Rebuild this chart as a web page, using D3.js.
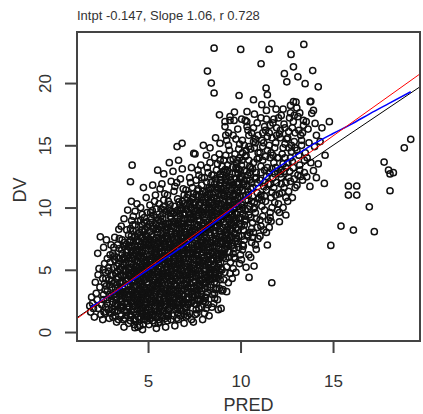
<!DOCTYPE html>
<html><head><meta charset="utf-8">
<script src="https://cdn.jsdelivr.net/npm/d3@7"></script>
<style>body{margin:0;background:#fff}svg{display:block}</style>
</head><body>
<svg id="c" width="423" height="414"></svg>
<script>
const title = "Intpt -0.147, Slope 1.06, r 0.728";
const xLabel = "PRED";
const yLabel = "DV";
const xTicks = [5, 10, 15];
const yTicks = [0, 5, 10, 15, 20];
const xDomain = [1.16, 19.7];
const yDomain = [-0.72, 24.1];
const fitIntercept = -0.147;
const fitSlope = 1.06;
const smoothX = [1.9, 3, 4, 5, 6, 7, 8, 9, 10, 11, 11.5, 12, 12.5, 13, 14, 15, 16, 17, 18, 19.2];
const smoothY = [2.0, 3.0, 4.0, 5.0, 6.0, 7.0, 8.15, 9.25, 10.45, 11.85, 12.6, 13.2, 13.7, 14.2, 15.15, 15.95, 16.7, 17.55, 18.35, 19.3];
const points = [
[1.9,1.6],[2.0,2.3],[2.1,1.2],[2.2,3.1],[1.95,2.8],[2.3,1.9],[2.15,4.0],[2.25,2.6],[2.28,6.32],[2.42,7.65],[2.35,5.1],[2.4,3.6],[2.05,1.9],[2.3,4.6],[2.45,1.4],[1.85,2.1],
[2.5,2.2],[2.6,3.0],[2.55,4.3],[2.7,1.5],[2.65,5.5],[2.8,2.6],[2.75,3.7],[2.9,1.1],[2.85,4.9],[2.95,6.2],[2.6,6.8],[2.7,2.0],[2.8,3.3],[2.9,4.2],[2.55,1.0],[3.0,2.9],[2.95,5.6],[2.75,7.4],[2.85,1.8],[2.65,3.9],[3.0,4.6],[2.9,3.0],[2.7,4.8],[2.6,2.6],[3.0,7.0],[2.8,5.9],
[3.1,1.2],[3.2,2.1],[3.15,3.0],[3.3,3.8],[3.25,4.7],[3.4,5.5],[3.1,6.3],[3.35,7.0],[3.42,8.25],[3.2,1.6],[3.3,2.6],[3.45,3.4],[3.05,4.1],[3.35,4.9],[3.2,5.8],[3.45,6.7],[3.1,2.4],[3.25,3.5],[3.4,1.0],[3.5,2.0],[3.15,5.2],[3.3,6.0],[3.45,2.9],[3.05,3.6],[3.4,4.4],[3.2,7.6],[3.5,5.0],[3.35,1.7],[3.1,4.6],[3.25,2.3],[3.5,3.1],[3.45,7.5],[3.3,0.8],[3.15,6.8],
[3.55,1.3],[3.6,2.2],[3.7,3.1],[3.65,4.0],[3.8,4.9],[3.75,5.8],[3.9,6.6],[3.6,7.4],[3.85,8.2],[3.7,9.1],[3.95,0.7],[3.55,1.9],[3.8,2.7],[3.65,3.5],[3.9,4.3],[3.55,5.2],[3.85,6.1],[3.7,6.9],[3.95,7.8],[3.6,2.9],[3.75,1.1],[3.9,2.0],[3.55,3.9],[3.8,4.6],[3.7,5.4],[3.95,3.3],[3.6,6.3],[3.85,1.6],[4.0,5.0],[3.75,2.4],[3.9,3.8],[3.65,4.5],[3.8,5.6],[3.95,6.9],[3.55,8.5],[3.9,9.8],[3.7,0.4],[4.0,2.6],[3.6,3.2],[3.85,4.1],[3.7,6.0],[4.0,7.2],
[4.05,0.9],[4.1,1.7],[4.2,2.5],[4.15,3.3],[4.3,4.1],[4.25,4.9],[4.4,5.7],[4.1,6.5],[4.35,7.3],[4.2,8.1],[4.45,8.9],[4.3,9.7],[4.1,10.5],[4.14,13.4],[4.05,12.07],[4.45,0.4],[4.1,1.3],[4.3,2.1],[4.2,2.9],[4.4,3.7],[4.05,4.5],[4.35,5.3],[4.2,6.1],[4.45,6.9],[4.1,7.7],[4.3,8.6],[4.25,1.0],[4.4,1.8],[4.15,2.3],[4.35,3.0],[4.05,3.8],[4.25,4.4],[4.45,5.1],[4.15,5.9],[4.35,6.6],[4.05,7.4],[4.45,2.6],[4.2,3.6],[4.4,4.7],[4.1,5.5],[4.3,6.3],[4.45,7.9],[4.2,9.3],[4.4,10.3],[4.25,0.6],[4.35,1.4],[4.0,2.0],[4.5,3.4],[4.15,4.2],[4.5,6.1],[4.25,7.0],[4.05,8.3],
[4.55,0.5],[4.6,1.2],[4.7,2.0],[4.65,2.8],[4.8,3.6],[4.75,4.4],[4.9,5.2],[4.6,6.0],[4.85,6.8],[4.7,7.6],[4.95,8.4],[4.8,9.2],[4.6,10.0],[4.9,10.8],[4.75,11.6],[4.95,0.9],[4.6,1.7],[4.85,2.4],[4.7,3.2],[4.95,4.0],[4.55,4.8],[4.8,5.6],[4.65,6.4],[4.9,7.2],[4.55,8.0],[4.8,8.8],[4.7,0.2],[4.9,1.5],[4.55,2.3],[4.75,3.0],[4.6,3.8],[4.85,4.6],[4.7,5.4],[4.95,6.2],[4.6,7.0],[4.85,7.8],[4.75,1.0],[4.65,2.1],[4.9,2.9],[4.55,3.5],[4.8,4.2],[4.65,5.0],[4.9,5.8],[4.55,6.6],[4.8,7.4],[4.7,8.6],[4.95,9.6],[4.65,1.5],[4.85,3.3],[4.6,4.4],[5.0,4.9],[4.75,6.1],[5.0,7.0],[4.6,9.0],
[5.05,0.6],[5.1,1.4],[5.2,2.2],[5.15,3.0],[5.3,3.8],[5.25,4.6],[5.4,5.4],[5.1,6.2],[5.35,7.0],[5.2,7.8],[5.45,8.6],[5.3,9.4],[5.1,10.2],[5.4,11.0],[5.25,11.8],[5.52,13.0],[5.45,0.3],[5.1,1.1],[5.35,1.9],[5.2,2.7],[5.45,3.5],[5.05,4.3],[5.3,5.1],[5.15,5.9],[5.4,6.7],[5.05,7.5],[5.3,8.3],[5.2,9.1],[5.45,9.9],[5.15,1.6],[5.4,2.4],[5.05,3.3],[5.25,4.0],[5.5,4.8],[5.15,5.6],[5.35,6.4],[5.05,7.2],[5.5,8.0],[5.25,0.9],[5.5,1.7],[5.3,2.5],[5.1,3.6],[5.45,4.4],[5.2,5.2],[5.5,6.0],[5.25,6.8],[5.45,7.6],[5.15,8.8],[5.35,10.5],[5.05,2.0],[5.35,3.2],[5.1,4.8],[5.4,5.8],[5.2,6.5],
[5.55,0.7],[5.6,1.5],[5.7,2.3],[5.65,3.1],[5.8,3.9],[5.75,4.7],[5.9,5.5],[5.6,6.3],[5.85,7.1],[5.7,7.9],[5.95,8.7],[5.8,9.5],[5.6,10.3],[5.9,11.1],[5.75,11.9],[5.85,12.7],[5.95,1.1],[5.6,1.9],[5.85,2.7],[5.7,3.5],[5.95,4.3],[5.55,5.1],[5.8,5.9],[5.65,6.7],[5.9,7.5],[5.55,8.3],[5.8,9.1],[5.7,9.9],[5.95,0.4],[5.65,2.0],[5.9,2.9],[5.55,3.7],[5.75,4.5],[5.6,5.3],[5.85,6.1],[5.7,6.9],[5.95,7.7],[5.6,8.5],[5.85,10.6],[5.75,1.3],[5.65,2.5],[5.9,3.3],[5.55,4.1],[5.8,4.9],[5.65,5.7],[5.9,6.5],[5.55,7.3],[5.8,8.1],[5.7,8.9],[6.0,9.7],[5.65,11.5],[5.85,1.7],[5.6,3.9],[6.0,5.2],[5.75,6.0],[6.0,6.8],[5.6,4.4],
[6.05,0.9],[6.1,1.7],[6.2,2.5],[6.15,3.3],[6.3,4.1],[6.25,4.9],[6.4,5.7],[6.1,6.5],[6.35,7.3],[6.2,8.1],[6.45,8.9],[6.3,9.7],[6.1,10.5],[6.4,11.3],[6.25,12.1],[6.35,12.9],[6.15,13.6],[6.45,0.5],[6.1,1.3],[6.35,2.1],[6.2,2.9],[6.45,3.7],[6.05,4.5],[6.3,5.3],[6.15,6.1],[6.4,6.9],[6.05,7.7],[6.3,8.5],[6.2,9.3],[6.45,10.1],[6.15,1.9],[6.4,2.7],[6.05,3.5],[6.25,4.3],[6.5,5.1],[6.15,5.9],[6.35,6.7],[6.05,7.5],[6.5,8.3],[6.25,9.1],[6.45,11.7],[6.25,1.0],[6.5,1.8],[6.3,3.0],[6.1,3.9],[6.45,4.7],[6.2,5.5],[6.5,6.3],[6.25,7.1],[6.45,7.9],[6.15,8.7],[6.35,9.5],[6.05,11.0],[6.3,2.3],[6.1,4.8],[6.4,6.0],[6.2,7.0],[6.0,8.0],[6.4,3.3],
[6.57,14.9],[6.84,15.16],[6.55,1.1],[6.6,1.9],[6.7,2.7],[6.65,3.5],[6.8,4.3],[6.75,5.1],[6.9,5.9],[6.6,6.7],[6.85,7.5],[6.7,8.3],[6.95,9.1],[6.8,9.9],[6.6,10.7],[6.9,11.5],[6.75,12.3],[6.85,13.1],[6.65,13.8],[6.95,0.7],[6.6,1.5],[6.85,2.3],[6.7,3.1],[6.95,3.9],[6.55,4.7],[6.8,5.5],[6.65,6.3],[6.9,7.1],[6.55,7.9],[6.8,8.7],[6.7,9.5],[6.95,10.3],[6.65,2.1],[6.9,2.9],[6.55,3.7],[6.75,4.5],[7.0,5.3],[6.65,6.1],[6.85,6.9],[6.55,7.7],[7.0,8.5],[6.75,9.3],[6.95,11.0],[6.75,1.3],[7.0,2.0],[6.8,3.3],[6.6,4.1],[6.95,4.9],[6.7,5.7],[7.0,6.5],[6.75,7.3],[6.95,8.1],[6.65,8.9],[6.85,10.5],[6.55,12.0],[6.8,1.7],[6.6,5.1],[6.9,6.3],[6.7,7.9],[6.6,9.8],
[7.05,1.2],[7.1,2.0],[7.2,2.8],[7.15,3.6],[7.3,4.4],[7.25,5.2],[7.4,6.0],[7.1,6.8],[7.35,7.6],[7.2,8.4],[7.45,9.2],[7.3,10.0],[7.1,10.8],[7.4,11.6],[7.25,12.4],[7.35,13.2],[7.47,14.35],[7.45,0.8],[7.1,1.6],[7.35,2.4],[7.2,3.2],[7.45,4.0],[7.05,4.8],[7.3,5.6],[7.15,6.4],[7.4,7.2],[7.05,8.0],[7.3,8.8],[7.2,9.6],[7.45,10.4],[7.15,2.2],[7.4,3.0],[7.05,3.8],[7.25,4.6],[7.5,5.4],[7.15,6.2],[7.35,7.0],[7.05,7.8],[7.5,8.6],[7.25,9.4],[7.45,11.1],[7.25,1.5],[7.5,2.3],[7.3,3.5],[7.1,4.3],[7.45,5.1],[7.2,5.9],[7.5,6.7],[7.25,7.5],[7.45,8.3],[7.15,9.1],[7.35,9.9],[7.05,11.4],[7.3,12.0],[7.4,4.7],[7.1,5.5],[7.2,7.0],[7.0,9.4],[7.35,1.0],
[7.54,14.3],[7.99,15.0],[7.55,1.4],[7.6,2.2],[7.7,3.0],[7.65,3.8],[7.8,4.6],[7.75,5.4],[7.9,6.2],[7.6,7.0],[7.85,7.8],[7.7,8.6],[7.95,9.4],[7.8,10.2],[7.6,11.0],[7.9,11.8],[7.75,12.6],[7.85,13.4],[7.95,1.0],[7.6,1.8],[7.85,2.6],[7.7,3.4],[7.95,4.2],[7.55,5.0],[7.8,5.8],[7.65,6.6],[7.9,7.4],[7.55,8.2],[7.8,9.0],[7.7,9.8],[7.95,10.6],[7.65,2.6],[7.9,3.3],[7.55,4.1],[7.75,4.9],[8.0,5.7],[7.65,6.4],[7.85,7.2],[7.55,8.0],[8.0,8.8],[7.75,9.6],[7.95,11.3],[7.75,1.9],[8.0,2.5],[7.8,3.7],[7.6,4.5],[7.95,5.3],[7.7,6.1],[8.0,6.9],[7.75,7.7],[7.95,8.5],[7.65,9.3],[7.85,10.4],[7.6,12.2],[7.7,13.0],[7.9,2.0],[7.6,5.8],[7.8,7.0],[7.7,10.9],[7.9,12.4],
[8.35,14.8],[8.05,1.5],[8.1,2.4],[8.2,3.2],[8.15,4.0],[8.3,4.8],[8.25,5.6],[8.4,6.4],[8.1,7.2],[8.35,8.0],[8.2,8.8],[8.45,9.6],[8.3,10.4],[8.1,11.2],[8.4,12.0],[8.25,12.8],[8.35,13.6],[8.15,14.2],[8.45,2.0],[8.1,2.8],[8.35,3.6],[8.2,4.4],[8.45,5.2],[8.05,6.0],[8.3,6.8],[8.15,7.6],[8.4,8.4],[8.05,9.2],[8.3,10.0],[8.2,10.8],[8.45,11.6],[8.15,3.0],[8.4,3.8],[8.05,4.6],[8.25,5.4],[8.5,6.2],[8.15,7.0],[8.35,7.8],[8.05,8.6],[8.5,9.4],[8.25,10.2],[8.45,12.6],[8.25,2.2],[8.5,3.0],[8.3,4.2],[8.1,5.0],[8.45,5.8],[8.2,6.6],[8.5,7.4],[8.25,8.2],[8.45,9.0],[8.15,9.8],[8.35,11.0],[8.05,12.4],[8.2,13.2],[8.08,2.7],[8.3,1.3],[8.4,4.6],[8.1,8.0],[8.3,11.6],
[8.89,15.16],[8.55,2.3],[8.6,3.1],[8.7,3.9],[8.65,4.7],[8.8,5.5],[8.75,6.3],[8.9,7.1],[8.6,7.9],[8.85,8.7],[8.7,9.5],[8.95,10.3],[8.8,11.1],[8.6,11.9],[8.9,12.7],[8.75,13.5],[8.85,14.3],[8.65,15.6],[8.95,1.9],[8.6,2.7],[8.85,3.5],[8.7,4.3],[8.95,5.1],[8.55,5.9],[8.8,6.7],[8.65,7.5],[8.9,8.3],[8.55,9.1],[8.8,9.9],[8.7,10.7],[8.95,11.5],[8.65,3.4],[8.9,4.2],[8.55,5.0],[8.75,5.8],[9.0,6.6],[8.65,7.3],[8.85,8.1],[8.55,8.9],[9.0,9.7],[8.75,10.5],[8.95,12.2],[8.75,2.6],[9.0,3.3],[8.8,4.5],[8.6,5.3],[8.95,6.1],[8.7,6.9],[9.0,7.7],[8.75,8.5],[8.95,9.3],[8.65,10.1],[8.85,11.8],[8.55,12.6],[8.7,13.0],[8.6,14.0],[8.8,1.8],[8.9,13.8],
[9.16,16.9],[9.16,16.5],[9.43,17.0],[9.25,3.24],[9.34,3.96],[9.43,4.71],[9.25,5.24],[9.05,3.4],[9.1,4.2],[9.2,5.9],[9.15,6.6],[9.3,7.4],[9.25,8.2],[9.4,9.0],[9.1,9.8],[9.35,10.6],[9.2,11.4],[9.45,12.2],[9.3,13.0],[9.1,13.8],[9.4,14.6],[9.25,15.4],[9.35,16.0],[9.45,5.6],[9.1,6.2],[9.35,7.0],[9.2,7.8],[9.45,8.6],[9.05,9.4],[9.3,10.2],[9.15,11.0],[9.4,11.8],[9.05,12.6],[9.3,13.4],[9.2,14.2],[9.15,4.8],[9.4,6.4],[9.05,7.2],[9.25,8.0],[9.5,8.8],[9.15,9.6],[9.35,10.4],[9.05,11.2],[9.5,12.0],[9.25,12.8],[9.45,13.8],[9.5,6.9],[9.3,9.1],[9.1,10.9],[9.45,10.0],[9.2,12.3],[9.0,13.3],[9.35,15.0],[9.0,5.0],[9.4,7.6],[9.2,9.4],
[9.67,17.67],[9.92,19.0],[9.55,4.3],[9.6,5.1],[9.7,5.9],[9.65,6.7],[9.8,7.5],[9.75,8.3],[9.9,9.1],[9.6,9.9],[9.85,10.7],[9.7,11.5],[9.95,12.3],[9.8,13.1],[9.6,13.9],[9.9,14.7],[9.75,15.5],[9.85,16.3],[9.65,17.0],[9.95,5.5],[9.6,6.3],[9.85,7.1],[9.7,7.9],[9.95,8.7],[9.55,9.5],[9.8,10.3],[9.65,11.1],[9.9,11.9],[9.55,12.7],[9.8,13.5],[9.7,14.3],[9.95,15.1],[9.65,6.0],[9.9,6.8],[9.55,7.6],[9.75,8.4],[10.0,9.2],[9.65,10.0],[9.85,10.8],[9.55,11.6],[10.0,12.4],[9.75,13.2],[9.95,14.0],[9.75,4.8],[10.0,6.2],[9.8,12.0],[9.6,15.8],[9.9,7.7],[9.7,9.6],[9.95,10.9],[9.6,8.6],[9.85,13.8],
[10.46,4.39],[10.05,5.8],[10.1,6.6],[10.2,7.4],[10.15,8.2],[10.3,9.0],[10.25,9.8],[10.4,10.6],[10.1,11.4],[10.35,12.2],[10.2,13.0],[10.45,13.8],[10.3,14.6],[10.1,15.4],[10.4,16.2],[10.25,17.0],[10.35,17.7],[10.45,6.2],[10.1,7.0],[10.35,7.8],[10.2,8.6],[10.45,9.4],[10.05,10.2],[10.3,11.0],[10.15,11.8],[10.4,12.6],[10.05,13.4],[10.3,14.2],[10.2,15.0],[10.45,15.8],[10.15,6.9],[10.4,7.7],[10.05,8.5],[10.25,9.3],[10.5,10.1],[10.15,10.9],[10.35,11.7],[10.05,12.5],[10.5,13.3],[10.25,14.1],[10.45,14.9],[10.3,5.2],[10.5,8.0],[10.1,9.5],[10.4,11.3],[10.2,12.1],[10.1,14.4],[10.35,16.5],
[10.73,5.3],[10.7,18.66],[10.85,6.64],[10.55,6.0],[10.6,7.2],[10.7,8.0],[10.65,8.8],[10.8,9.6],[10.75,10.4],[10.9,11.2],[10.6,12.0],[10.85,12.8],[10.7,13.6],[10.95,14.4],[10.8,15.2],[10.6,16.0],[10.9,16.8],[10.75,17.5],[10.95,7.5],[10.6,8.3],[10.85,9.1],[10.7,9.9],[10.95,10.7],[10.55,11.5],[10.8,12.3],[10.65,13.1],[10.9,13.9],[10.55,14.7],[10.8,15.5],[10.7,16.4],[10.65,7.6],[10.9,8.4],[10.55,9.2],[10.75,10.0],[11.0,10.8],[10.65,11.6],[10.85,12.4],[10.55,13.2],[11.0,14.0],[10.75,14.8],[10.95,15.8],[10.6,10.5],[10.9,12.0],[10.8,7.0],[10.5,12.8],[10.7,15.3],
[11.15,18.26],[11.38,19.6],[11.45,19.06],[11.45,6.99],[11.05,7.7],[11.1,8.5],[11.2,9.3],[11.15,10.1],[11.3,10.9],[11.25,11.7],[11.4,12.5],[11.1,13.3],[11.35,14.1],[11.2,14.9],[11.45,15.7],[11.3,16.5],[11.1,17.2],[11.4,17.8],[11.05,9.0],[11.3,9.8],[11.15,10.6],[11.4,11.4],[11.05,12.2],[11.3,13.0],[11.2,13.8],[11.45,14.6],[11.15,15.4],[11.35,16.2],[11.25,8.2],[11.5,9.0],[11.3,12.0],[11.1,11.0],[11.45,13.2],[11.2,16.0],[11.4,8.0],[11.35,10.5],[11.5,11.9],[11.05,14.4],[11.25,15.2],[11.1,12.8],
[11.69,18.34],[11.92,17.9],[11.69,3.96],[11.55,8.4],[11.6,9.2],[11.7,10.0],[11.65,10.8],[11.8,11.6],[11.75,12.4],[11.9,13.2],[11.6,14.0],[11.85,14.8],[11.7,15.6],[11.95,16.4],[11.8,17.1],[11.6,9.6],[11.85,10.4],[11.7,11.2],[11.95,12.0],[11.55,12.8],[11.8,13.6],[11.65,14.4],[11.9,15.2],[11.55,16.0],[11.75,16.8],[11.65,8.9],[12.0,9.8],[11.9,11.0],[11.6,11.9],[11.85,12.7],[11.7,13.1],[12.0,14.0],[11.55,15.0],[11.95,15.8],[11.75,14.2],[11.6,16.6],
[12.37,20.75],[12.5,20.1],[12.1,8.86],[12.05,10.3],[12.1,11.1],[12.2,11.9],[12.15,12.7],[12.3,13.5],[12.25,14.3],[12.4,15.1],[12.1,15.9],[12.35,16.7],[12.2,17.4],[12.45,10.8],[12.1,9.6],[12.35,11.6],[12.2,12.4],[12.45,13.2],[12.05,14.0],[12.3,14.8],[12.15,15.6],[12.4,16.4],[12.05,17.2],[12.3,10.0],[12.45,12.0],[12.2,13.0],[12.4,14.0],[12.15,16.2],[12.35,12.9],[12.25,11.2],[12.0,12.9],[12.5,15.5],[12.3,17.9],[12.45,9.4],
[12.73,22.3],[12.86,21.3],[12.55,10.5],[12.6,11.3],[12.7,12.1],[12.65,12.9],[12.8,13.7],[12.75,14.5],[12.9,15.3],[12.6,16.1],[12.85,16.9],[12.7,17.6],[12.95,11.6],[12.6,12.4],[12.85,13.2],[12.7,14.0],[12.95,14.8],[12.55,15.6],[12.8,16.4],[12.65,17.2],[12.9,12.3],[12.55,13.6],[12.75,15.0],[12.95,16.0],[12.6,14.8],[12.8,10.8],[12.7,18.2],[12.9,17.4],
[13.1,20.5],[13.49,19.95],[13.42,23.1],[13.04,18.0],[13.0,18.47],[13.05,11.8],[13.1,12.6],[13.2,13.4],[13.15,14.2],[13.3,15.0],[13.25,15.8],[13.4,16.6],[13.1,17.3],[13.35,12.2],[13.2,13.0],[13.45,13.8],[13.05,14.6],[13.3,15.4],[13.15,16.2],[13.4,17.0],[13.25,12.5],[13.5,14.4],[13.35,16.0],[13.2,17.6],[13.45,12.8],[13.58,12.47],
[13.9,21.0],[13.8,18.53],[13.94,17.8],[13.85,17.57],[14.03,16.76],[14.2,19.7],[13.94,12.96],[14.57,14.2],[14.53,11.94],[14.8,16.9],[13.6,14.0],[13.7,15.2],[13.65,16.3],[13.8,13.6],[14.0,14.9],[14.1,15.8],[14.3,15.3],[13.75,11.7],[14.2,13.5],[13.55,16.9],[14.4,16.4],[14.1,12.4],
[15.83,11.73],[16.28,11.73],[15.83,11.0],[16.28,11.0],[18.08,11.35],[16.96,10.06],[15.43,8.51],[16.1,8.19],[17.23,8.06],[14.88,6.96],[19.2,15.48],[18.85,14.8],[17.76,13.65],[18.0,13.0],[18.26,12.8],[18.08,12.7],
[8.57,22.8],[10.01,22.7],[11.54,22.7],[11.11,21.55],[8.21,20.96],[8.42,20.0],[8.57,19.2],[8.86,17.45],[12.86,18.5],[13.76,18.5],[10.06,17.1],[10.34,16.9],[9.43,17.3],[11.4,17.1],[9.2,15.8],
[2.62,1.6],[2.78,2.3],[2.68,3.4],[2.92,3.8],[2.72,4.3],[2.88,5.2],[2.58,5.0],[2.98,1.5],
[3.08,1.8],[3.22,2.8],[3.38,3.2],[3.12,3.9],[3.28,4.3],[3.42,5.9],[3.18,6.1],[3.32,5.3],[3.48,4.0],[3.02,2.7],[3.36,2.2],[3.24,1.3],
[3.58,2.5],[3.72,1.7],[3.88,3.0],[3.62,3.6],[3.78,4.1],[3.92,5.1],[3.68,4.9],[3.82,6.4],[3.58,6.6],[3.96,5.9],[3.74,7.2],[3.66,1.0],[3.86,2.3],[3.52,4.6],[3.98,4.5],[3.64,5.5],
[4.08,2.4],[4.22,1.6],[4.38,2.4],[4.12,3.2],[4.28,3.6],[4.42,4.3],[4.18,4.8],[4.32,5.0],[4.48,5.6],[4.02,5.2],[4.22,5.4],[4.38,6.2],[4.12,6.9],[4.28,7.6],[4.42,7.4],[4.18,8.6],[4.32,0.9],[4.48,1.2],[4.02,3.0],[4.26,2.7],[4.46,3.0],[4.12,4.0],[4.36,4.5],[4.04,6.8],
[4.58,1.9],[4.72,1.4],[4.88,2.0],[4.62,2.6],[4.78,2.7],[4.92,3.5],[4.68,3.9],[4.82,4.9],[4.58,5.5],[4.98,5.3],[4.72,5.9],[4.88,6.5],[4.62,6.8],[4.78,7.0],[4.92,7.7],[4.68,8.2],[4.52,7.3],[4.84,8.2],[4.74,0.6],[4.94,1.2],[4.56,4.1],[4.76,3.6],[4.96,4.5],[4.66,4.7],
[5.08,1.9],[5.22,1.3],[5.38,2.1],[5.12,2.5],[5.28,2.9],[5.42,3.0],[5.18,3.4],[5.32,4.3],[5.48,3.9],[5.02,4.6],[5.22,5.0],[5.38,4.9],[5.12,5.4],[5.28,6.0],[5.42,6.2],[5.18,7.1],[5.32,7.4],[5.48,7.0],[5.08,8.1],[5.26,8.5],[5.44,9.2],[5.14,9.6],[5.36,0.7],[5.02,1.3],
[5.58,1.0],[5.72,1.8],[5.88,2.2],[5.62,2.8],[5.78,3.2],[5.92,3.8],[5.68,4.1],[5.82,4.4],[5.58,4.8],[5.98,4.8],[5.72,5.2],[5.88,5.8],[5.62,6.0],[5.78,6.4],[5.92,7.0],[5.68,7.5],[5.82,7.8],[5.58,9.0],[5.98,8.2],[5.72,8.6],[5.88,9.8],[5.64,0.8],[5.96,2.5],[5.54,2.6],
[6.08,1.4],[6.22,2.0],[6.38,2.4],[6.12,2.8],[6.28,3.4],[6.42,3.9],[6.18,4.1],[6.32,4.6],[6.48,4.3],[6.02,5.0],[6.22,5.1],[6.38,5.5],[6.12,5.7],[6.28,6.3],[6.42,6.5],[6.18,6.8],[6.32,7.6],[6.48,7.2],[6.08,8.4],[6.26,8.8],[6.44,9.6],[6.14,9.9],[6.36,1.3],[6.02,2.3],
[6.58,2.4],[6.72,1.9],[6.88,2.6],[6.62,3.0],[6.78,3.7],[6.92,4.2],[6.68,4.6],[6.82,4.9],[6.58,5.4],[6.98,5.6],[6.72,6.0],[6.88,6.6],[6.62,7.0],[6.78,7.7],[6.92,7.6],[6.68,8.6],[6.82,8.4],[6.58,9.2],[6.98,9.5],[6.72,10.2],[6.88,10.0],[6.64,1.0],[6.96,1.4],[6.54,6.6],
[7.08,2.6],[7.22,2.3],[7.38,2.8],[7.12,3.3],[7.28,3.9],[7.42,4.4],[7.18,4.9],[7.32,5.0],[7.48,5.8],[7.02,5.9],[7.22,6.6],[7.38,6.4],[7.12,7.4],[7.28,8.0],[7.42,7.8],[7.18,8.8],[7.32,9.2],[7.48,9.8],[7.08,10.2],[7.26,10.5],[7.44,10.8],[7.14,1.3],
[7.58,2.9],[7.72,2.5],[7.88,3.0],[7.62,3.5],[7.78,4.2],[7.92,4.7],[7.68,5.1],[7.82,5.3],[7.58,6.2],[7.98,6.4],[7.72,6.9],[7.88,6.8],[7.62,7.6],[7.78,8.3],[7.92,8.0],[7.68,9.0],[7.82,9.7],[7.58,10.4],[7.98,10.0],[7.72,11.5],[7.88,10.8],[7.64,1.5],
[8.08,3.5],[8.22,3.6],[8.38,4.3],[8.12,4.3],[8.28,5.2],[8.42,5.0],[8.18,5.8],[8.32,6.1],[8.48,6.8],[8.02,6.6],[8.22,7.3],[8.38,7.2],[8.12,8.3],[8.28,8.6],[8.42,8.8],[8.18,9.4],[8.32,9.6],[8.48,10.2],[8.08,10.4],[8.26,11.4],[8.44,10.8],[8.14,1.9],
[8.58,4.0],[8.72,3.5],[8.88,4.8],[8.62,4.4],[8.78,5.2],[8.92,5.6],[8.68,6.1],[8.82,6.3],[8.58,6.9],[8.98,7.3],[8.72,7.7],[8.88,7.6],[8.62,8.5],[8.78,9.2],[8.92,9.0],[8.68,9.8],[8.82,10.3],[8.58,10.8],[8.98,11.0],[8.72,11.4],[8.88,12.0],[8.64,12.3],
[9.08,6.0],[9.22,6.9],[9.38,6.0],[9.12,7.5],[9.28,7.1],[9.42,8.2],[9.18,8.6],[9.32,8.4],[9.48,9.4],[9.02,8.4],[9.22,10.1],[9.38,9.6],[9.12,10.4],[9.28,11.1],[9.42,11.0],[9.18,12.0],[9.32,12.1],[9.48,11.4],[9.08,12.9],
[9.58,7.0],[9.72,7.3],[9.88,8.2],[9.62,9.2],[9.78,9.0],[9.92,10.1],[9.68,10.6],[9.82,11.4],[9.58,10.9],[9.98,11.6],[9.72,12.8],[9.88,12.7],[10.08,7.7],[10.22,8.9],[10.38,9.9],[10.12,10.0],[10.28,10.6],[10.42,11.0],[10.18,11.9],[10.32,12.9],[10.48,12.2],[10.08,13.8],
[3.63,2.05],[3.77,3.25],[3.93,4.65],[3.69,5.95],[3.83,7.05],[3.57,3.05],[3.81,1.35],[3.97,2.85],
[4.03,1.45],[4.17,2.05],[4.33,2.65],[4.47,3.25],[4.09,3.45],[4.23,4.05],[4.39,4.95],[4.13,5.15],[4.27,5.75],[4.43,6.45],[4.07,6.15],[4.21,7.25],[4.37,8.15],[4.11,8.95],[4.29,0.35],[4.47,2.15],
[4.53,1.05],[4.67,1.75],[4.83,2.15],[4.97,2.65],[4.59,3.15],[4.73,3.75],[4.89,4.25],[4.63,4.95],[4.77,5.25],[4.93,5.55],[4.57,5.95],[4.71,6.55],[4.87,7.05],[4.63,7.65],[4.79,8.05],[4.93,8.85],[4.69,9.45],[4.87,1.25],[4.99,3.15],[4.61,2.45],
[5.03,1.75],[5.17,2.35],[5.33,2.85],[5.47,2.35],[5.09,3.15],[5.23,3.65],[5.39,4.15],[5.13,4.45],[5.27,4.95],[5.43,5.65],[5.07,5.75],[5.21,6.25],[5.37,6.75],[5.11,7.35],[5.27,7.65],[5.43,8.25],[5.07,8.65],[5.23,9.75],[5.41,1.25],[5.29,1.45],
[5.53,1.25],[5.67,1.65],[5.83,2.45],[5.97,3.05],[5.59,3.35],[5.73,3.95],[5.89,4.65],[5.63,4.55],[5.77,5.45],[5.93,6.15],[5.57,5.75],[5.71,6.45],[5.87,6.85],[5.63,7.15],[5.79,7.45],[5.93,8.45],[5.69,9.25],[5.83,10.05],[5.61,2.25],[5.97,1.45],
[6.03,1.25],[6.17,2.25],[6.33,2.75],[6.47,3.15],[6.09,3.15],[6.23,3.75],[6.39,4.45],[6.13,4.45],[6.27,5.65],[6.43,5.25],[6.07,5.45],[6.21,6.35],[6.37,6.15],[6.11,7.15],[6.27,7.85],[6.43,7.55],[6.07,8.65],[6.23,9.55],[6.41,8.45],[6.19,10.25],
[6.53,2.25],[6.67,2.45],[6.83,3.05],[6.97,3.45],[6.59,3.35],[6.73,4.15],[6.89,4.55],[6.63,5.45],[6.77,5.85],[6.93,6.25],[6.57,6.35],[6.71,7.05],[6.87,7.25],[6.63,7.55],[6.79,8.05],[6.93,8.75],[6.57,8.65],[6.73,9.75],[6.89,9.45],[6.67,10.45],
[7.03,2.35],[7.17,2.65],[7.33,3.25],[7.47,3.55],[7.09,4.05],[7.23,4.25],[7.39,5.35],[7.13,5.25],[7.27,6.25],[7.43,6.35],[7.07,7.05],[7.21,7.75],[7.37,8.15],[7.11,8.25],[7.27,9.05],[7.43,9.45],[7.07,9.85],[7.23,10.25],[7.39,10.65],[7.17,11.05],
[7.53,3.25],[7.67,3.15],[7.83,4.05],[7.97,3.95],[7.59,4.75],[7.73,5.65],[7.89,5.55],[7.63,6.25],[7.77,6.65],[7.93,7.15],[7.57,7.35],[7.71,7.95],[7.87,8.15],[7.63,8.45],[7.79,8.95],[7.93,9.65],[7.57,9.75],[7.73,10.25],[7.89,11.05],[7.67,11.35],
[8.03,3.85],[8.17,4.65],[8.33,5.05],[8.47,4.25],[8.09,5.35],[8.23,6.05],[8.39,5.85],[8.13,6.45],[8.27,7.05],[8.43,7.15],[8.07,7.85],[8.21,8.45],[8.37,8.65],[8.11,9.45],[8.27,9.85],[8.43,10.35],[8.07,10.85],[8.23,11.05],[8.39,11.45],[8.17,12.05],
[8.53,4.35],[8.67,5.05],[8.83,5.85],[8.97,6.35],[8.59,6.45],[8.73,7.15],[8.89,7.85],[8.63,8.15],[8.77,8.85],[8.93,9.55],[8.57,9.65],[8.71,10.25],[8.87,10.65],[8.63,11.25],[8.79,11.55],[8.93,12.45],[8.69,12.05],
[9.03,6.35],[9.17,7.15],[9.33,7.75],[9.47,8.35],[9.09,8.85],[9.23,9.25],[9.39,9.95],[9.13,10.15],[9.27,10.85],[9.43,10.55],[9.07,11.55],[9.23,11.75],[9.39,12.45],[9.17,13.05],[9.33,6.45],
[9.53,8.15],[9.67,8.85],[9.83,9.45],[9.97,9.85],[9.59,10.25],[9.73,10.95],[9.89,11.25],[9.63,11.85],[9.77,12.35],[9.93,13.05],[9.57,13.25],[9.71,7.55]
];

const svg = d3.select("#c");
const L = 77, R = 420, T = 32, B = 341;
const x = d3.scaleLinear().domain(xDomain).range([L, R]);
const y = d3.scaleLinear().domain(yDomain).range([B, T]);
const font = "Liberation Sans, Arial, sans-serif";

svg.append("defs").append("clipPath").attr("id", "clip")
  .append("rect").attr("x", L).attr("y", T).attr("width", R - L).attr("height", B - T);

svg.append("g").selectAll("circle").data(points).join("circle")
  .attr("cx", d => x(d[0])).attr("cy", d => y(d[1])).attr("r", 3.1)
  .attr("fill", "none").attr("stroke", "#111").attr("stroke-width", 1.5);

const lines = svg.append("g").attr("clip-path", "url(#clip)");
lines.append("line")
  .attr("x1", x(xDomain[0])).attr("y1", y(xDomain[0]))
  .attr("x2", x(xDomain[1])).attr("y2", y(xDomain[1]))
  .attr("stroke", "#000").attr("stroke-width", 1);
lines.append("path").datum(d3.zip(smoothX, smoothY))
  .attr("d", d3.line().x(d => x(d[0])).y(d => y(d[1])).curve(d3.curveMonotoneX))
  .attr("fill", "none").attr("stroke", "#0000ff").attr("stroke-width", 1.5);
lines.append("line")
  .attr("x1", x(xDomain[0])).attr("y1", y(fitIntercept + fitSlope * xDomain[0]))
  .attr("x2", x(xDomain[1])).attr("y2", y(fitIntercept + fitSlope * xDomain[1]))
  .attr("stroke", "#ff0000").attr("stroke-width", 1);

svg.append("rect").attr("x", L).attr("y", T).attr("width", R - L).attr("height", B - T)
  .attr("fill", "none").attr("stroke", "#444").attr("stroke-width", 2);

const xa = svg.append("g").attr("transform", `translate(0,${B})`)
  .call(d3.axisBottom(x).tickValues(xTicks).tickSize(12).tickPadding(22).tickSizeOuter(0));
xa.select(".domain").remove();
xa.selectAll("line").attr("stroke", "#444").attr("stroke-width", 2);
xa.selectAll("text").attr("font-family", font).attr("font-size", 17).attr("fill", "#333");

const ya = svg.append("g").attr("transform", `translate(${L},0)`)
  .call(d3.axisLeft(y).tickValues(yTicks).tickSize(12).tickFormat(d3.format("d")).tickSizeOuter(0));
ya.select(".domain").remove();
ya.selectAll("line").attr("stroke", "#444").attr("stroke-width", 2);
ya.selectAll("text").remove();
ya.selectAll(".tick").append("text")
  .attr("transform", "translate(-26,0) rotate(-90)")
  .attr("text-anchor", "middle")
  .attr("font-family", font).attr("font-size", 17).attr("fill", "#333")
  .text(d => d);

svg.append("text").attr("x", (L + R) / 2).attr("y", 411).attr("text-anchor", "middle")
  .attr("font-family", font).attr("font-size", 18).attr("fill", "#333").text(xLabel);
svg.append("text").attr("transform", "translate(26,190) rotate(-90)").attr("text-anchor", "middle")
  .attr("font-family", font).attr("font-size", 18).attr("fill", "#333").text(yLabel);
svg.append("text").attr("x", 77).attr("y", 20)
  .attr("font-family", font).attr("font-size", 13).attr("fill", "#333").text(title);
</script>
</body></html>
